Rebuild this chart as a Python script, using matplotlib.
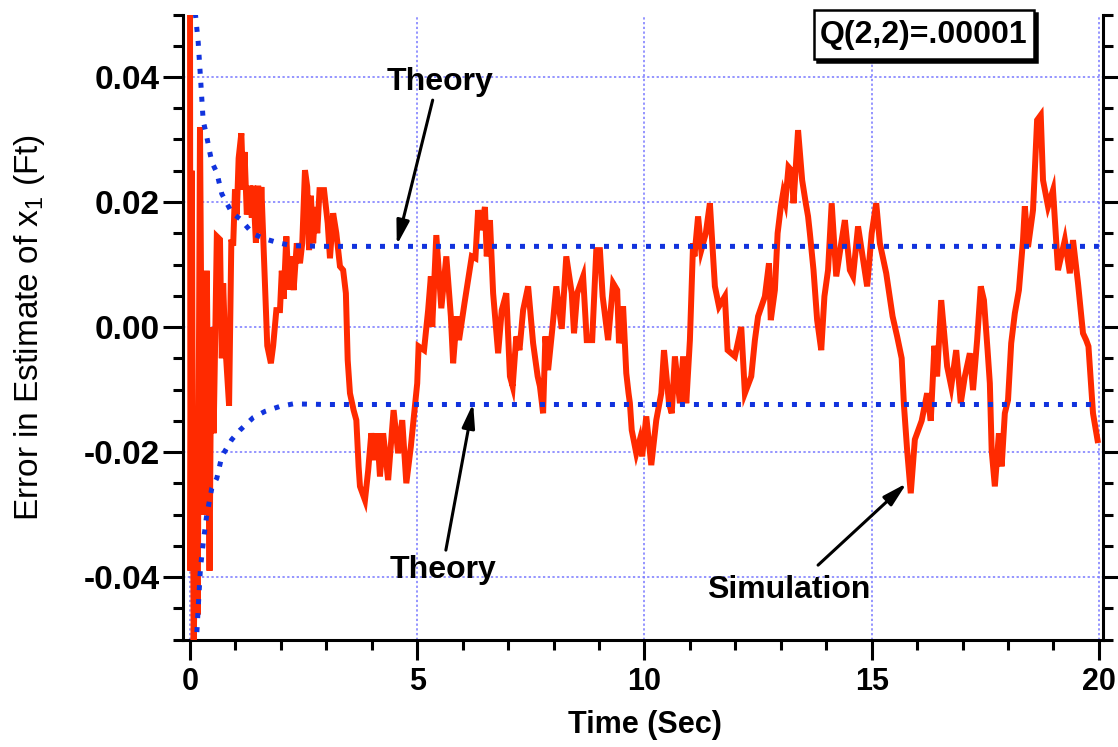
import matplotlib
matplotlib.use('Agg')
import matplotlib.pyplot as plt
from matplotlib.patches import Rectangle
from matplotlib.ticker import MultipleLocator
from matplotlib.transforms import offset_copy

plt.rcParams['font.family'] = 'Liberation Sans'
plt.rcParams['font.weight'] = 'bold'
plt.rcParams['mathtext.fontset'] = 'custom'
plt.rcParams['mathtext.rm'] = 'Liberation Sans'

# Simulated error in the estimate of x1 (ft) vs time (s)
sim_t = [0.00, 0.01, 0.04, 0.08, 0.13, 0.17, 0.22, 0.25, 0.29, 0.33,
         0.37, 0.43, 0.47, 0.52, 0.55, 0.59, 0.66, 0.70, 0.73, 0.77,
         0.86, 0.91, 0.95, 0.99, 1.03, 1.07, 1.13, 1.17, 1.20, 1.25,
         1.32, 1.36, 1.39, 1.45, 1.50, 1.54, 1.57, 1.61, 1.65, 1.70,
         1.78, 1.83, 1.90, 1.98, 2.02, 2.06, 2.12, 2.17, 2.22, 2.28,
         2.35, 2.42, 2.47, 2.53, 2.58, 2.62, 2.66, 2.71, 2.76, 2.80,
         2.85, 2.95, 3.03, 3.08, 3.15, 3.22, 3.30, 3.37, 3.43, 3.47,
         3.52, 3.60, 3.66, 3.71, 3.74, 3.85, 3.92, 3.99, 4.07, 4.12,
         4.18, 4.25, 4.36, 4.48, 4.58, 4.67, 4.76, 4.86, 4.95, 5.00,
         5.03, 5.15, 5.24, 5.30, 5.33, 5.42, 5.53, 5.64, 5.74, 5.79,
         5.87, 5.92, 6.04, 6.20, 6.28, 6.34, 6.40, 6.49, 6.53, 6.60,
         6.67, 6.78, 6.86, 6.96, 7.04, 7.10, 7.18, 7.25, 7.33, 7.44,
         7.55, 7.65, 7.70, 7.77, 7.82, 7.88, 7.97, 8.06, 8.18, 8.28,
         8.40, 8.45, 8.52, 8.65, 8.73, 8.85, 8.94, 9.02, 9.08, 9.20,
         9.31, 9.40, 9.44, 9.53, 9.60, 9.65, 9.68, 9.72, 9.82, 9.90,
         9.95, 10.04, 10.15, 10.26, 10.37, 10.43, 10.54, 10.60, 10.67, 10.78,
         10.85, 10.92, 11.00, 11.07, 11.10, 11.18, 11.25, 11.35, 11.44, 11.55,
         11.64, 11.77, 11.83, 11.99, 12.13, 12.21, 12.35, 12.43, 12.50, 12.65,
         12.74, 12.78, 12.87, 12.93, 13.00, 13.05, 13.10, 13.17, 13.24, 13.28,
         13.38, 13.47, 13.55, 13.60, 13.64, 13.72, 13.80, 13.89, 13.96, 14.04,
         14.12, 14.22, 14.33, 14.41, 14.52, 14.59, 14.70, 14.80, 14.90, 15.00,
         15.10, 15.18, 15.32, 15.46, 15.56, 15.66, 15.71, 15.78, 15.86, 15.95,
         16.10, 16.22, 16.30, 16.38, 16.44, 16.53, 16.66, 16.75, 16.86, 16.96,
         17.05, 17.16, 17.23, 17.32, 17.40, 17.47, 17.55, 17.60, 17.64, 17.71,
         17.80, 17.86, 17.93, 18.00, 18.07, 18.15, 18.24, 18.33, 18.37, 18.44,
         18.55, 18.64, 18.72, 18.77, 18.88, 18.99, 19.10, 19.25, 19.36, 19.43,
         19.54, 19.65, 19.72, 19.77, 19.87, 19.97]
sim_err = [0.056, -0.039, 0.025, -0.051, -0.030, -0.046, 0.032, 0.000, -0.030, -0.014,
           0.009, -0.039, 0.000, -0.017, -0.004, 0.0145, 0.014, -0.005, 0.007, -0.002,
           -0.0126, 0.014, 0.013, 0.022, 0.018, 0.027, 0.031, 0.022, 0.028, 0.018,
           0.0226, 0.0175, 0.0226, 0.0135, 0.0226, 0.015, 0.0224, 0.0145, 0.007, -0.003,
           -0.0058, -0.003, 0.0027, 0.0027, 0.009, 0.0045, 0.0145, 0.006, 0.0113, 0.0059,
           0.0134, 0.0102, 0.0134, 0.0251, 0.0224, 0.0123, 0.0210, 0.0134, 0.0192, 0.0150,
           0.0219, 0.0219, 0.0166, 0.0110, 0.0182, 0.0150, 0.0097, 0.0091, 0.0054, -0.0053,
           -0.0106, -0.0133, -0.0149, -0.0223, -0.0255, -0.0277, -0.0230, -0.0170, -0.0213, -0.0170,
           -0.0239, -0.0170, -0.0245, -0.0133, -0.0202, -0.0149, -0.0250, -0.0191, -0.0127, -0.0090,
           -0.0031, -0.0037, 0.0027, 0.0081, 0.0000, 0.0147, 0.0030, 0.0113, 0.0017, -0.0058,
           0.0017, -0.0021, 0.0038, 0.0113, 0.0110, 0.0187, 0.0155, 0.0192, 0.0113, 0.0171,
           0.0054, -0.0042, 0.0027, 0.0054, -0.0079, -0.0095, -0.0015, -0.0037, 0.0027, 0.0065,
           -0.0026, -0.0079, -0.0095, -0.0138, -0.0015, -0.0069, -0.0005, 0.0065, -0.0003, 0.0113,
           0.0054, -0.0010, 0.0054, 0.0081, -0.0021, -0.0021, 0.0123, 0.0123, 0.0049, -0.0021,
           0.0070, 0.0059, -0.0026, 0.0033, -0.0074, -0.0106, -0.0122, -0.0165, -0.0202, -0.0180,
           -0.0207, -0.0143, -0.0221, -0.0149, -0.0106, -0.0037, -0.0122, -0.0138, -0.0047, -0.0122,
           -0.0047, -0.0122, -0.0021, 0.0134, 0.0113, 0.0177, 0.0123, 0.0150, 0.0198, 0.0065,
           0.0033, 0.0049, -0.0037, -0.0047, 0.0000, -0.0106, -0.0079, -0.0021, 0.0017, 0.0049,
           0.0102, 0.0011, 0.0059, 0.0150, 0.0192, 0.0214, 0.0200, 0.0256, 0.0250, 0.0198,
           0.0315, 0.0235, 0.0198, 0.0177, 0.0150, 0.0091, 0.0011, -0.0037, 0.0049, 0.0091,
           0.0198, 0.0081, 0.0134, 0.0171, 0.0091, 0.0081, 0.0161, 0.0113, 0.0065, 0.0150,
           0.0198, 0.0134, 0.0086, 0.0017, -0.0015, -0.0050, -0.0125, -0.0197, -0.0266, -0.0180,
           -0.0150, -0.0106, -0.0150, -0.0030, -0.0079, 0.0043, -0.0063, -0.0095, -0.0037, -0.0122,
           -0.0079, -0.0042, -0.0101, -0.0021, 0.0065, 0.0043, -0.0037, -0.0090, -0.0197, -0.0255,
           -0.0170, -0.0223, -0.0138, -0.0117, -0.0026, 0.0022, 0.0059, 0.0139, 0.0193, 0.0128,
           0.0187, 0.0331, 0.0339, 0.0235, 0.0193, 0.0219, 0.0091, 0.0139, 0.0086, 0.0139,
           0.0070, -0.0010, -0.0021, -0.0031, -0.0138, -0.0181]

# Theoretical bounds on the estimation error
theory_t = [0.08, 0.12, 0.18, 0.23, 0.29, 0.36, 0.42, 0.48, 0.59, 0.70,
            0.92, 1.10, 1.39, 1.65, 1.98, 2.27, 3.00, 20.0]
theory_upper = [0.056, 0.050, 0.0456, 0.040, 0.0330, 0.0308, 0.0285, 0.0264, 0.0247, 0.0213,
                0.0183, 0.0173, 0.0149, 0.0141, 0.0134, 0.0130, 0.0129, 0.0129]
theory_lower = [-0.060, -0.053, -0.045, -0.0386, -0.0346, -0.0305, -0.0281, -0.0258, -0.0242, -0.0207,
                -0.0180, -0.0165, -0.0145, -0.0135, -0.0127, -0.0123, -0.0124, -0.0124]

fig = plt.figure(figsize=(11.18, 7.47), dpi=100)
ax = fig.add_axes([183 / 1118, 1 - 639.5 / 747, 920 / 1118, 625 / 747])

# dotted grid at major ticks
ax.grid(True, which='major', color='#7878ff', linewidth=1.1, linestyle=(0, (1.5, 1.6)))
ax.set_axisbelow(True)

ax.plot(sim_t, sim_err, color='#ff2a00', linewidth=4.3, solid_joinstyle='miter', zorder=3)

for bound in (theory_upper, theory_lower):
    ax.plot(theory_t, bound, color='#1133dd', linewidth=3.6,
            linestyle=(0, (1.0, 1.8)), dash_capstyle='butt', zorder=4)

ax.set_xlim(-0.154, 20.09)
ax.set_ylim(-0.05, 0.05)

ax.xaxis.set_major_locator(MultipleLocator(5))
ax.xaxis.set_minor_locator(MultipleLocator(1))
ax.yaxis.set_major_locator(MultipleLocator(0.02))
ax.yaxis.set_minor_locator(MultipleLocator(0.005))
ax.yaxis.set_major_formatter(plt.FuncFormatter(lambda v, p: f'{v:.2f}'))

ax.spines['top'].set_visible(False)
for side in ('left', 'right', 'bottom'):
    ax.spines[side].set_linewidth(2.2)

ax.tick_params(which='both', direction='out', width=2.2, top=False, right=True,
               labelright=False)
ax.tick_params(which='major', length=14.5)
ax.tick_params(which='minor', length=7.2)
ax.tick_params(axis='x', which='major', pad=5, labelsize=22)
ax.tick_params(axis='y', which='major', pad=2, labelsize=24)

ax.set_xlabel('Time (Sec)', fontsize=22, fontweight='bold', va='center')
ax.xaxis.set_label_coords((645 - 183) / 920, (639.5 - 725) / 625)
ax.set_ylabel(r'Error in Estimate of x$_\mathregular{1}$ (Ft)', fontsize=24,
              fontweight='normal', va='center')
ax.yaxis.set_label_coords((30 - 183) / 920, 0.5)

# annotations
arrow_kw = dict(arrowstyle='-|>,head_length=1.45,head_width=0.38', color='black',
                lw=2.2, shrinkA=0, shrinkB=0, mutation_scale=10)
ax.annotate('', xy=(4.55, 0.0131), xytext=(5.34, 0.0363), arrowprops=arrow_kw, zorder=6)
ax.text(5.50, 0.0392, 'Theory', fontsize=23, ha='center', va='center')
ax.annotate('', xy=(6.23, -0.0122), xytext=(5.63, -0.0357), arrowprops=arrow_kw, zorder=6)
ax.text(5.57, -0.0389, 'Theory', fontsize=23, ha='center', va='center')
ax.annotate('', xy=(15.77, -0.0250), xytext=(13.82, -0.0381), arrowprops=arrow_kw, zorder=6)
ax.text(13.18, -0.0421, 'Simulation', fontsize=23, ha='center', va='center')

# boxed parameter note with drop shadow
bx0, by0 = (814 - 183) / 920, (639.5 - 59) / 625
bw, bh = 220 / 920, 49 / 625
shadow = offset_copy(ax.transAxes, fig=fig, x=3, y=-3, units='dots')
ax.add_patch(Rectangle((bx0, by0), bw, bh, transform=shadow, facecolor='black',
                       edgecolor='black', linewidth=1.8, clip_on=False, zorder=7))
ax.add_patch(Rectangle((bx0, by0), bw, bh, transform=ax.transAxes, facecolor='white',
                       edgecolor='black', linewidth=1.8, clip_on=False, zorder=8))
ax.text(bx0 + bw / 2, by0 + bh / 2, 'Q(2,2)=.00001', transform=ax.transAxes,
        fontsize=23, ha='center', va='center', zorder=9)

plt.savefig('out.png', dpi=100)
plt.close()
